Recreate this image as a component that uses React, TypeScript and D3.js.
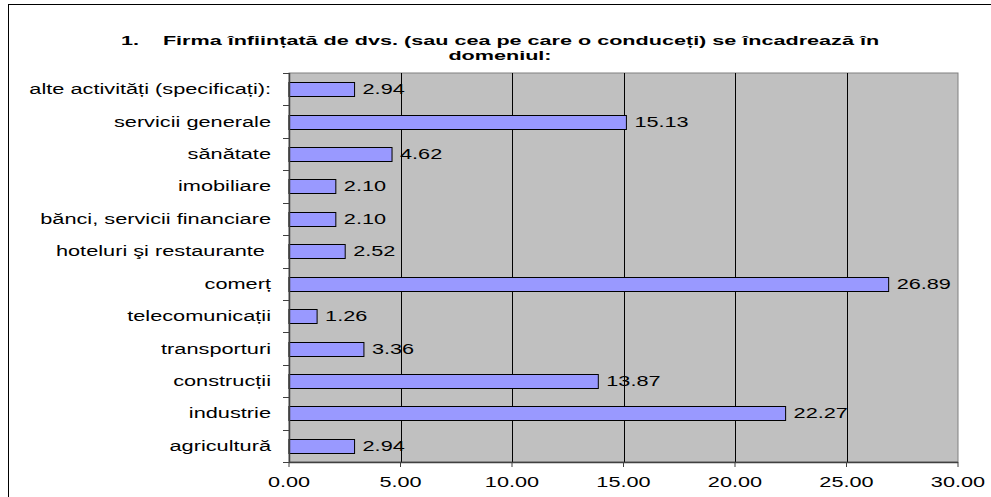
import React from 'react';
import * as d3 from 'd3';

const categories = [
  'agricultură',
  'industrie',
  'construcții',
  'transporturi',
  'telecomunicații',
  'comerț',
  'hoteluri şi restaurante ',
  'bănci, servicii financiare',
  'imobiliare',
  'sănătate',
  'servicii generale',
  'alte activități (specificați):'
];
const values = [2.94, 22.27, 13.87, 3.36, 1.26, 26.89, 2.52, 2.10, 2.10, 4.62, 15.13, 2.94];
const xTicks = [0, 5, 10, 15, 20, 25, 30];
const titleLines = [
  '1.    Firma înființată de dvs. (sau cea pe care o conduceți) se încadrează în',
  'domeniul:'
];

const W = 991, H = 497;
const margin = { top: 73, right: 33, bottom: 35, left: 289 };
const font = 'Liberation Sans, Arial, sans-serif';

// the original is stretched horizontally, so text is too
const Txt = ({ x, y, sx, children, ...rest }: any) => (
  <text transform={`translate(${x},${y}) scale(${sx},1)`} style={{ whiteSpace: 'pre' }} fill="#000" {...rest}>
    {children}
  </text>
);

export default function App() {
  const w = W - margin.left - margin.right;
  const h = H - margin.top - margin.bottom;

  const x = d3.scaleLinear().domain([0, 30]).range([0, w]);
  // first category sits at the bottom
  const y = d3.scaleBand<string>()
    .domain(categories.slice().reverse())
    .range([0, h])
    .paddingInner(0.57)
    .paddingOuter(0.285);
  const bounds = d3.range(categories.length + 1).map(i => i * (h / categories.length));

  return (
    <svg width={W} height={H} style={{ position: 'absolute', left: 0, top: 0 }} fontFamily={font}>
      <rect x={0} y={0} width={W} height={H} fill="#fff" />
      <rect x={8.5} y={4.5} width={W + 10} height={H + 10} fill="none" stroke="#000" strokeWidth={1} />
      {titleLines.map((t, i) => (
        <Txt key={i} x={500} y={45 + i * 15} sx={1.6} textAnchor="middle" fontSize={13.5} fontWeight="bold">{t}</Txt>
      ))}
      <g transform={`translate(${margin.left},${margin.top})`}>
        <rect x={0} y={0} width={w} height={h} fill="#C0C0C0" stroke="#808080" strokeWidth={1} />
        {xTicks.slice(1, -1).map(t => (
          <line key={t} x1={Math.round(x(t)) + 0.5} x2={Math.round(x(t)) + 0.5} y1={0} y2={h} stroke="#000" strokeWidth={1} />
        ))}
        {categories.map((c, i) => (
          <rect key={c} x={0} y={Math.round(y(c)!) + 0.5} width={x(values[i])} height={Math.round(y.bandwidth())}
            fill="#9999FF" stroke="#000" strokeWidth={1} />
        ))}
        {categories.map((c, i) => (
          <Txt key={c} x={x(values[i]) + 8} y={y(c)! + y.bandwidth() / 2 + 5} sx={1.55} fontSize={14}>
            {values[i].toFixed(2)}
          </Txt>
        ))}
        {/* axes */}
        <line x1={0} x2={w} y1={h + 0.5} y2={h + 0.5} stroke="#404040" strokeWidth={1.5} />
        <line x1={0.5} x2={0.5} y1={0} y2={h} stroke="#404040" strokeWidth={1.5} />
        {xTicks.map(t => (
          <g key={t} transform={`translate(${x(t)},${h})`}>
            <line y1={0} y2={5} stroke="#404040" />
            <Txt x={0} y={25} sx={1.55} textAnchor="middle" fontSize={14}>{t.toFixed(2)}</Txt>
          </g>
        ))}
        {bounds.map((b, i) => (
          <line key={i} x1={-6} x2={0} y1={Math.round(b) + 0.5} y2={Math.round(b) + 0.5} stroke="#404040" />
        ))}
        {categories.map(c => (
          <Txt key={c} x={-18} y={y(c)! + y.bandwidth() / 2 + 5} sx={1.45} textAnchor="end" fontSize={15}>
            {c}
          </Txt>
        ))}
      </g>
    </svg>
  );
}
